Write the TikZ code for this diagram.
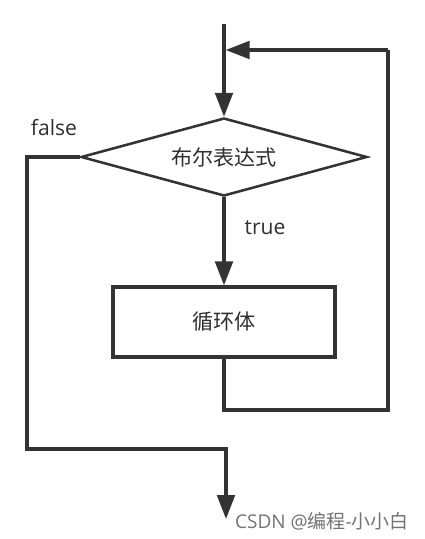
\documentclass[tikz,border=0pt]{standalone}
\usepackage{fontspec}
\setmainfont{Open Sans}
\newfontfamily\cjk{Noto Sans CJK SC}
\usetikzlibrary{shapes.geometric, arrows.meta, positioning}
\definecolor{linea}{HTML}{333333}
\definecolor{scritta}{HTML}{2F2F2F}

\begin{document}
\begin{tikzpicture}[
  x=0.025cm, y=-0.025cm,
  font=\fontsize{15}{18}\selectfont, text=scritta,
  giudizio/.style={diamond, draw=linea, line width=1.8pt, aspect=3.67, inner sep=0pt,
                   minimum width=7.15cm, minimum height=1.95cm, font=\cjk\fontsize{15}{18}\selectfont},
  corpo/.style={rectangle, draw=linea, line width=2.3pt, inner sep=0pt,
                minimum width=5.55cm, minimum height=1.75cm, font=\cjk\fontsize{15}{18}\selectfont},
  punta/.style={-{Triangle[length=17pt,width=12.5pt]}},
  flusso/.style={draw=linea, line width=2.4pt},
  freccia/.style={flusso, punta}
]
\useasboundingbox (0,0) rectangle (424,539);

% nodi
\node[giudizio] (cond) at (224,157) {布尔表达式};
\node[corpo] (body) at (224,322) {循环体};
\coordinate (start) at (224,24);
\coordinate (join) at (224,50);
\coordinate (loopL) at (224,410);
\coordinate (loopR) at (388,50);
\coordinate (exitL) at (27,449);
\coordinate (fine) at (226,519);

% collegamenti
\draw[flusso] (start) -- (join);
\draw[freccia] (join) -- (cond.north);
\draw[freccia] (cond.south) -- (body.north);
\draw[flusso, line join=miter] (body.south) -- (loopL) -| (loopR);
\draw[freccia] (loopR) -- ([xshift=1.2pt]join);
\draw[freccia, line join=miter] (cond.west) -| (exitL) -| (fine);

% etichette
\node (lblfalse) at (54,128) {false};
\node (lbltrue) at (265,228) {true};
\node[text=black!55, font=\fontsize{13.5}{16}\selectfont] (marca) at (322,521) {CSDN @{\cjk 编程}-{\cjk 小小白}};
\end{tikzpicture}
\end{document}
